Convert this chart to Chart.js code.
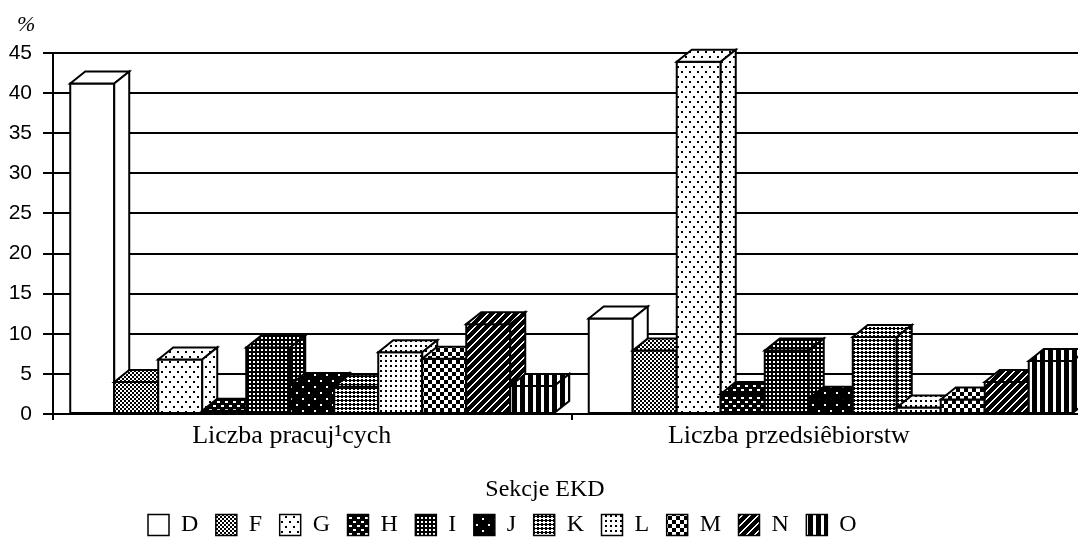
<!DOCTYPE html>
<html lang="pl">
<head>
<meta charset="utf-8">
<title>Sekcje EKD</title>
<style>
html,body{margin:0;padding:0;background:#ffffff;width:1078px;height:549px;overflow:hidden}
#wrap{position:absolute;left:0;top:0;width:1100px;height:549px}
canvas{display:block}
</style>
<script src="https://cdn.jsdelivr.net/npm/chart.js@4.4.1/dist/chart.umd.min.js"></script>
</head>
<body>
<div id="wrap"><canvas id="chart" width="1100" height="549"></canvas></div>
<script>
// ---- data ----
const categories = ['Liczba pracuj\u00b9cych', 'Liczba przedsi\u00eabiorstw'];
const sections = ['D', 'F', 'G', 'H', 'I', 'J', 'K', 'L', 'M', 'N', 'O'];
const pracujacych = [41.2, 4.0, 6.8, 0.4, 8.3, 3.6, 3.4, 7.7, 6.9, 11.2, 3.5];
const przedsiebiorstw = [11.9, 7.9, 43.9, 2.5, 7.9, 1.9, 9.6, 0.8, 1.8, 4.0, 6.6];
const yMin = 0;
const yMax = 45;
const yStep = 5;
const unitText = '%';
const legendTitle = 'Sekcje EKD';

// ---- fill patterns (styles) ----
const canvas = document.getElementById('chart');
const mainCtx = canvas.getContext('2d');
function makePattern(w, h, isBlack) {
  const t = document.createElement('canvas');
  t.width = w; t.height = h;
  const g = t.getContext('2d');
  const img = g.createImageData(w, h);
  for (let y = 0; y < h; y++) {
    for (let x = 0; x < w; x++) {
      const v = isBlack(x, y) ? 0 : 255;
      const k = (y * w + x) * 4;
      img.data[k] = v; img.data[k + 1] = v; img.data[k + 2] = v; img.data[k + 3] = 255;
    }
  }
  g.putImageData(img, 0, 0);
  return mainCtx.createPattern(t, 'repeat');
}
const patternDefs = {
  D: null,
  F: [4, 4, (x, y) => ((x >> 1) + (y >> 1)) % 2 === 0],
  G: [8, 10, (x, y) => (x >= 1 && x < 3 && y >= 1 && y < 3) || (x >= 5 && x < 7 && y >= 6 && y < 8)],
  H: [8, 8, (x, y) => !((x >= 1 && x < 4 && y >= 1 && y < 3) || (x >= 5 && x < 8 && y >= 5 && y < 7))],
  I: [4, 4, (x, y) => !(x >= 1 && x < 3 && y >= 1 && y < 3)],
  J: [12, 12, (x, y) => !((x >= 2 && x < 4 && y >= 2 && y < 4) || (x >= 8 && x < 10 && y >= 8 && y < 10))],
  K: [8, 8, (x, y) => (Math.floor((x + y) / 4) + Math.floor((x - y + 8) / 4)) % 2 === 0],
  L: [5, 5, (x, y) => x < 2 && y < 2],
  M: [8, 8, (x, y) => ((x >> 2) + (y >> 2)) % 2 === 0],
  N: [8, 8, (x, y) => ((x + y) % 8) > 1],
  O: [8, 1, (x, y) => x < 5]
};
const fills = sections.map(s => patternDefs[s] ? makePattern(...patternDefs[s]) : '#ffffff');

const datasets = sections.map((s, i) => ({
  label: s,
  data: [pracujacych[i], przedsiebiorstw[i]],
  backgroundColor: fills[i],
  borderColor: '#000000',
  borderWidth: 0
}));

// ---- plugins ----
function face(ctx, pts, fill) {
  ctx.beginPath();
  ctx.moveTo(pts[0][0], pts[0][1]);
  for (let k = 1; k < pts.length; k++) ctx.lineTo(pts[k][0], pts[k][1]);
  ctx.closePath();
  ctx.fillStyle = fill;
  ctx.fill();
  ctx.stroke();
}
const depth3d = {
  id: 'depth3d',
  afterDatasetsDraw(chart, args, opts) {
    const ctx = chart.ctx;
    const dx = opts.dx, dy = opts.dy;
    ctx.save();
    ctx.lineWidth = opts.lineWidth;
    ctx.strokeStyle = '#000000';
    ctx.lineJoin = 'miter';
    chart.data.datasets.forEach((ds, i) => {
      const meta = chart.getDatasetMeta(i);
      meta.data.forEach(bar => {
        const p = bar.getProps(['x', 'y', 'base', 'width'], true);
        const l = p.x - p.width / 2, r = p.x + p.width / 2, t = p.y, b = p.base;
        face(ctx, [[l, t], [r, t], [r, b], [l, b]], ds.backgroundColor);
        face(ctx, [[l, t], [l + dx, t + dy], [r + dx, t + dy], [r, t]], ds.backgroundColor);
        face(ctx, [[r, t], [r + dx, t + dy], [r + dx, b + dy], [r, b]], ds.backgroundColor);
      });
    });
    ctx.restore();
  }
};
const legendShift = {
  id: 'legendShift',
  afterLayout(chart, args, opts) {
    const lg = chart.legend;
    if (!lg || !lg.lineWidths) return;
    const pad = lg.options.labels.padding;
    const cursorX = (lg.left + pad + lg.right - lg.lineWidths[0]) / 2;
    const shift = opts.firstBoxX - cursorX;
    lg.left += shift;
    lg.right += shift;
  }
};
const unitLabel = {
  id: 'unitLabel',
  afterDraw(chart, args, opts) {
    const ctx = chart.ctx;
    ctx.save();
    ctx.font = opts.font;
    ctx.fillStyle = '#000000';
    ctx.textAlign = 'left';
    ctx.textBaseline = 'alphabetic';
    ctx.fillText(opts.text, opts.x, opts.y);
    ctx.restore();
  }
};

new Chart(canvas, {
  type: 'bar',
  data: { labels: categories, datasets: datasets },
  options: {
    responsive: false,
    animation: false,
    devicePixelRatio: 1,
    layout: { padding: { top: 53, left: 0, right: 10, bottom: 2 } },
    datasets: { bar: { categoryPercentage: 0.9335, barPercentage: 1 } },
    scales: {
      x: {
        grid: { display: true, drawOnChartArea: false, drawTicks: true, tickLength: 6, color: '#000000', lineWidth: 2 },
        border: { display: true, color: '#000000', width: 2 },
        ticks: { color: '#000000', font: { family: 'Liberation Serif', size: 26 }, padding: 1, align: 'end', labelOffset: 79, maxRotation: 0, autoSkip: false }
      },
      y: {
        min: yMin,
        max: yMax,
        afterFit(scale) { scale.width = 53; },
        grid: { color: '#000000', lineWidth: 2, tickLength: 10, drawTicks: true },
        border: { display: true, color: '#000000', width: 2 },
        ticks: { stepSize: yStep, color: '#000000', font: { family: 'Liberation Sans', size: 21 }, padding: 11 }
      }
    },
    plugins: {
      tooltip: { enabled: false },
      title: {
        display: true, text: legendTitle, position: 'bottom', weight: 500, color: '#000000',
        font: { family: 'Liberation Serif', size: 24, weight: 'normal', lineHeight: 0.5 },
        padding: { top: 30.3, bottom: 0 }
      },
      legend: {
        position: 'bottom',
        labels: {
          color: '#000000',
          font: { family: 'Liberation Serif', size: 24 },
          boxWidth: 21, boxHeight: 21, padding: 17.5,
          generateLabels(chart) {
            const items = Chart.defaults.plugins.legend.labels.generateLabels(chart);
            items.forEach(it => { it.lineWidth = 1.5; it.strokeStyle = '#000000'; });
            return items;
          }
        }
      },
      depth3d: { dx: 15, dy: -12, lineWidth: 2 },
      legendShift: { firstBoxX: 148 },
      unitLabel: { text: unitText, x: 17, y: 31, font: 'italic 22px "Liberation Serif"' }
    }
  },
  plugins: [depth3d, legendShift, unitLabel]
});
</script>
</body>
</html>
